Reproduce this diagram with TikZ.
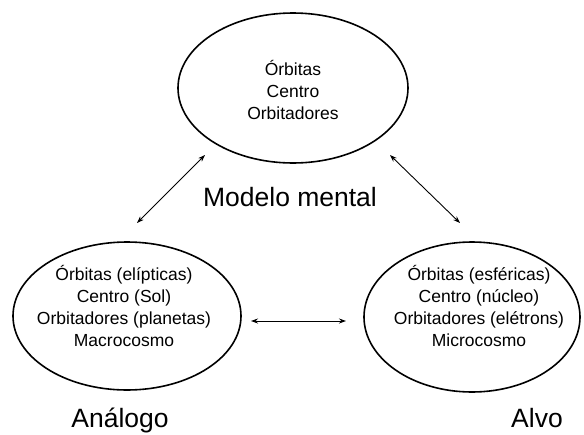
\documentclass[tikz,border=0pt]{standalone}
\usepackage{fontspec}
\setmainfont{Liberation Sans}
\usetikzlibrary{shapes.geometric,arrows.meta}
\begin{document}
\begin{tikzpicture}[x=1pt,y=-1pt,
  oval/.style={draw,line width=1.6pt,ellipse,inner sep=0pt},
  body/.style={align=center,font=\fontsize{17.5}{22}\selectfont,inner sep=0pt},
  title/.style={font=\fontsize{26.5}{30}\selectfont,inner sep=0pt},
  link/.style={line width=0.9pt,{Stealth[length=7pt,width=5pt]}-{Stealth[length=7pt,width=5pt]}}]
\useasboundingbox (0,0) rectangle (584,434);
\node[oval,minimum width=230pt,minimum height=150pt] (top) at (293,88) {};
\node[oval,minimum width=228pt,minimum height=148pt] (left) at (127,316) {};
\node[oval,minimum width=216pt,minimum height=150pt] (right) at (472,317) {};
\node[body] (toptext) at (293,90) {Órbitas\\Centro\\Orbitadores};
\node[body] (lefttext) at (124,306) {Órbitas (elípticas)\\Centro (Sol)\\Orbitadores (planetas)\\Macrocosmo};
\node[body] (righttext) at (479,306) {Órbitas (esféricas)\\Centro (núcleo)\\Orbitadores (elétrons)\\Microcosmo};
\node[title] (mm) at (290,197) {Modelo mental};
\node[title,anchor=base] (an) at (120,427.5) {Análogo};
\node[title,anchor=base] (al) at (537,427.5) {Alvo};
\coordinate (a1) at (137,223);
\coordinate (a2) at (205,155);
\coordinate (b1) at (390,155);
\coordinate (b2) at (460,223);
\coordinate (c1) at (251,321);
\coordinate (c2) at (346,321);
\draw[link] (a1) -- (a2);
\draw[link] (b1) -- (b2);
\draw[link] (c1) -- (c2);
\end{tikzpicture}
\end{document}
